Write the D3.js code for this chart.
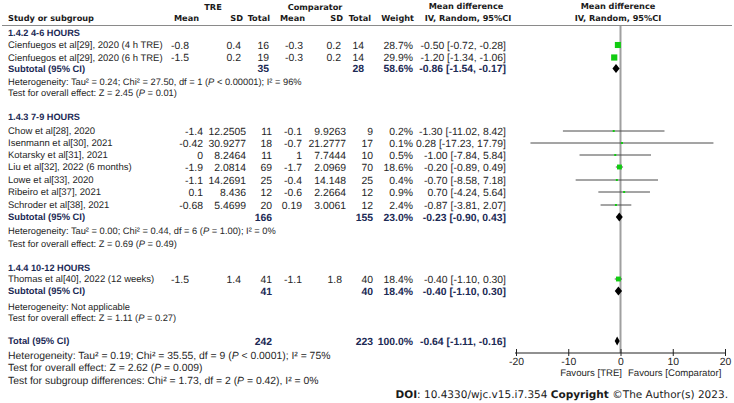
<!DOCTYPE html>
<html>
<head>
<meta charset="utf-8">
<script src="https://cdn.jsdelivr.net/npm/d3@7"></script>
<style>
  body { margin: 0; background: #fff; }
  svg { display: block; }
  text { text-rendering: geometricPrecision; }
  .body { font-family: "Liberation Sans", Arial, sans-serif; font-size: 10.4px; fill: #262626; }
  .name { font-family: "Liberation Sans", Arial, sans-serif; font-size: 9.5px; fill: #262626; }
  .note { font-family: "Liberation Sans", Arial, sans-serif; font-size: 9.3px; fill: #262626; }
  .note2 { font-family: "Liberation Sans", Arial, sans-serif; font-size: 10.4px; fill: #262626; }
  .fav { font-family: "Liberation Sans", Arial, sans-serif; font-size: 9.6px; fill: #262626; }
  .bold { font-family: "Liberation Sans", Arial, sans-serif; font-size: 10.4px; font-weight: bold; fill: #1c2a55; }
  .sublabel { font-family: "Liberation Sans", Arial, sans-serif; font-size: 9.4px; font-weight: bold; fill: #1c2a55; }
  .gtitle { font-family: "Liberation Sans", Arial, sans-serif; font-size: 9.2px; font-weight: bold; fill: #1c2a55; }
  .head { font-family: "DejaVu Sans", Verdana, sans-serif; font-size: 8.2px; font-weight: bold; fill: #1a1a1a; }
</style>
</head>
<body>
<div id="chart"></div>
<script>

// ---- data ----
var groupTitles = ["1.4.2 4-6 HOURS", "1.4.3 7-9 HOURS", "1.4.4 10-12 HOURS"];
var studyGroup  = [0, 0, 1, 1, 1, 1, 1, 1, 1, 2];
var studies = [
  "Cienfuegos et al[29], 2020 (4 h TRE)",
  "Cienfuegos et al[29], 2020 (6 h TRE)",
  "Chow et al[28], 2020",
  "Isenmann et al[30], 2021",
  "Kotarsky et al[31], 2021",
  "Liu et al[32], 2022 (6 months)",
  "Lowe et al[33], 2020",
  "Ribeiro et al[37], 2021",
  "Schroder et al[38], 2021",
  "Thomas et al[40], 2022 (12 weeks)"
];
var treMean  = [-0.8, -1.5, -1.4, -0.42, 0, -1.9, -1.1, 0.1, -0.68, -1.5];
var treSD    = [0.4, 0.2, 12.2505, 30.9277, 8.2464, 2.0814, 14.2691, 8.436, 5.4699, 1.4];
var treN     = [16, 19, 11, 18, 11, 69, 25, 12, 20, 41];
var compMean = [-0.3, -0.3, -0.1, -0.7, 1, -1.7, -0.4, -0.6, 0.19, -1.1];
var compSD   = [0.2, 0.2, 9.9263, 21.2777, 7.7444, 2.0969, 14.148, 2.2664, 3.0061, 1.8];
var compN    = [14, 14, 9, 17, 10, 70, 25, 12, 12, 40];
var weights  = [28.7, 29.9, 0.2, 0.1, 0.5, 18.6, 0.4, 0.9, 2.4, 18.4];
var md       = [-0.50, -1.20, -1.30, 0.28, -1.00, -0.20, -0.70, 0.70, -0.87, -0.40];
var mdLow    = [-0.72, -1.34, -11.02, -17.23, -7.84, -0.89, -8.58, -4.24, -3.81, -1.10];
var mdHigh   = [-0.28, -1.06, 8.42, 17.79, 5.84, 0.49, 7.18, 5.64, 2.07, 0.30];

var subTreN   = [35, 166, 41];
var subCompN  = [28, 155, 40];
var subWeight = [58.6, 23.0, 18.4];
var subMd     = [-0.86, -0.23, -0.40];
var subLow    = [-1.54, -0.90, -1.10];
var subHigh   = [-0.17, 0.43, 0.30];
var subHet = [
  "Heterogeneity: Tau² = 0.24; Chi² = 27.50, df = 1 (P < 0.00001); I² = 96%",
  "Heterogeneity: Tau² = 0.00; Chi² = 0.44, df = 6 (P = 1.00); I² = 0%",
  "Heterogeneity: Not applicable"
];
var subTest = [
  "Test for overall effect: Z = 2.45 (P = 0.01)",
  "Test for overall effect: Z = 0.69 (P = 0.49)",
  "Test for overall effect: Z = 1.11 (P = 0.27)"
];

var totalTreN = 242, totalCompN = 223, totalWeight = 100.0;
var totalMd = -0.64, totalLow = -1.11, totalHigh = -0.16;
var totalNotes = [
  "Heterogeneity: Tau² = 0.19; Chi² = 35.55, df = 9 (P < 0.0001); I² = 75%",
  "Test for overall effect: Z = 2.62 (P = 0.009)",
  "Test for subgroup differences: Chi² = 1.73, df = 2 (P = 0.42), I² = 0%"
];
var axisTicks = [-20, -10, 0, 10, 20];

// ---- layout ----
var W = 734, H = 403;
var svg = d3.select("#chart").append("svg").attr("width", W).attr("height", H);

var x = d3.scaleLinear().domain([-20, 20]).range([516, 725]);
var boxSize = d3.scaleSqrt().domain([0, 30]).range([0, 6.2]);
// plain hyphen for negatives, like the source table
var loc = d3.formatLocale({decimal: ".", thousands: ",", grouping: [3], currency: ["", ""], minus: "-"});
var f2 = loc.format(".2f"), f1 = loc.format(".1f"), fd = loc.format("d");

// row y (text middle) for each block
var titleY = [33, 117, 268];
var studyY = [45, 57.5, 131, 143, 155, 167, 180, 192, 205, 279];
var subY   = [68.5, 217, 291];
var hetY   = [82, 231, 307];
var testY  = [93, 244, 318];
var totalY = 341;
var notesY = [355, 367, 380];
var axisY = 353;

// right edges of numeric columns, group by group (the source table is not quite aligned)
var colRight = [
  {tm: 189, tsd: 241, tn: 269, cm: 303, csd: 341, cn: 364},
  {tm: 203, tsd: 246, tn: 272, cm: 302, csd: 346, cn: 373},
  {tm: 189, tsd: 241, tn: 272, cm: 302, csd: 342, cn: 373}
];
var wRight = 413, ciRight = 506, labelX = 8;

function ciText(m, l, h) { return f2(m) + " [" + f2(l) + ", " + f2(h) + "]"; }

function txt(cls, xx, yy, s, anchor) {
  return svg.append("text").attr("class", cls).attr("x", xx).attr("y", yy)
    .attr("dy", "0.35em").attr("text-anchor", anchor || "start").text(s);
}

// note text with italic P
function note(cls, xx, yy, s) {
  var t = svg.append("text").attr("class", cls).attr("x", xx).attr("y", yy).attr("dy", "0.35em");
  s.split(/(\bP\b)/).forEach(function (p) {
    var sp = t.append("tspan").text(p);
    if (p === "P") sp.style("font-style", "italic");
  });
}

// ---- header ----
txt("head", 213, 7, "TRE", "middle");
txt("head", 315, 7, "Comparator", "middle");
txt("head", 466, 6, "Mean difference", "middle");
txt("head", 618, 6, "Mean difference", "middle");
txt("head", labelX, 18, "Study or subgroup");
txt("head", 199, 18, "Mean", "end");
txt("head", 243, 18, "SD", "end");
txt("head", 270, 18, "Total", "end");
txt("head", 305, 18, "Mean", "end");
txt("head", 343, 18, "SD", "end");
txt("head", 371, 18, "Total", "end");
txt("head", 414, 18, "Weight", "end");
txt("head", 468, 18, "IV, Random, 95%CI", "middle");
txt("head", 618, 18, "IV, Random, 95%CI", "middle");

svg.append("line").attr("x1", 2).attr("x2", 732).attr("y1", 25.5).attr("y2", 25.5)
  .attr("stroke", "#8a8a8a").attr("stroke-width", 1);

// zero line
svg.append("line").attr("x1", x(0)).attr("x2", x(0)).attr("y1", 26).attr("y2", axisY)
  .attr("stroke", "#a0a0a0").attr("stroke-width", 2);

function diamond(m, l, h, y) {
  var hh = 4.5;
  var pts = [[x(l), y], [x(m), y - hh], [x(h), y], [x(m), y + hh]];
  svg.append("path").attr("d", d3.line()(pts) + "Z").attr("fill", "#000");
}

// ---- groups ----
groupTitles.forEach(function (g, gi) {
  txt("gtitle", labelX, titleY[gi], g);
  var c = colRight[gi];
  studies.forEach(function (s, i) {
    if (studyGroup[i] !== gi) return;
    var y = studyY[i];
    txt("name", labelX, y, s);
    txt("body", c.tm, y, String(treMean[i]), "end");
    txt("body", c.tsd, y, String(treSD[i]), "end");
    txt("body", c.tn, y, fd(treN[i]), "end");
    txt("body", c.cm, y, String(compMean[i]), "end");
    txt("body", c.csd, y, String(compSD[i]), "end");
    txt("body", c.cn, y, fd(compN[i]), "end");
    txt("body", wRight, y, f1(weights[i]) + "%", "end");
    txt("body", ciRight, y, ciText(md[i], mdLow[i], mdHigh[i]), "end");

    svg.append("line").attr("x1", x(mdLow[i])).attr("x2", x(mdHigh[i]))
      .attr("y1", y).attr("y2", y).attr("stroke", "#4a4a4a").attr("stroke-width", 1);
    var b = Math.max(2, boxSize(weights[i]));
    svg.append("rect").attr("x", x(md[i]) - b / 2).attr("y", y - b / 2)
      .attr("width", b).attr("height", b).attr("fill", "#11cc11");
  });

  var sy = subY[gi];
  txt("sublabel", labelX, sy, "Subtotal (95% CI)");
  txt("bold", c.tn, sy, fd(subTreN[gi]), "end");
  txt("bold", c.cn, sy, fd(subCompN[gi]), "end");
  txt("bold", wRight, sy, f1(subWeight[gi]) + "%", "end");
  txt("bold", ciRight, sy, ciText(subMd[gi], subLow[gi], subHigh[gi]), "end");
  diamond(subMd[gi], subLow[gi], subHigh[gi], sy);

  note("note", labelX, hetY[gi], subHet[gi]);
  note("note", labelX, testY[gi], subTest[gi]);
});

// ---- total ----
txt("sublabel", labelX, totalY, "Total (95% CI)");
txt("bold", 272, totalY, fd(totalTreN), "end");
txt("bold", 373, totalY, fd(totalCompN), "end");
txt("bold", wRight, totalY, f1(totalWeight) + "%", "end");
txt("bold", ciRight, totalY, ciText(totalMd, totalLow, totalHigh), "end");
diamond(totalMd, totalLow, totalHigh, totalY);
totalNotes.forEach(function (n, i) { note("note2", labelX, notesY[i], n); });

// ---- axis ----
var ax = svg.append("g").attr("transform", "translate(0," + axisY + ")")
  .call(d3.axisBottom(x).tickValues(axisTicks).tickFormat(fd)
    .tickSizeOuter(0).tickSizeInner(3).tickPadding(2));
ax.select(".domain").attr("stroke", "#222").attr("d", "M" + (x(-20) - 1) + ",0H" + (x(20) + 1));
ax.selectAll(".tick line").attr("y1", -4).attr("y2", 3).attr("stroke", "#222");
ax.selectAll(".tick text").attr("fill", "#262626")
  .style("font-family", "'Liberation Sans', Arial, sans-serif").style("font-size", "10.4px");

txt("fav", 622, 373, "Favours [TRE]", "end");
txt("fav", 628, 373, "Favours [Comparator]");

// ---- footer ----
var doi = svg.append("text").attr("x", 728).attr("y", 394).attr("dy", "0.35em")
  .attr("text-anchor", "end")
  .style("font-family", "'DejaVu Sans', Verdana, sans-serif").style("font-size", "10.5px").attr("fill", "#1a1a1a");
doi.append("tspan").style("font-weight", "bold").text("DOI");
doi.append("tspan").text(": 10.4330/wjc.v15.i7.354 ");
doi.append("tspan").style("font-weight", "bold").text("Copyright");
doi.append("tspan").text(" ©The Author(s) 2023.");

</script>
</body>
</html>
